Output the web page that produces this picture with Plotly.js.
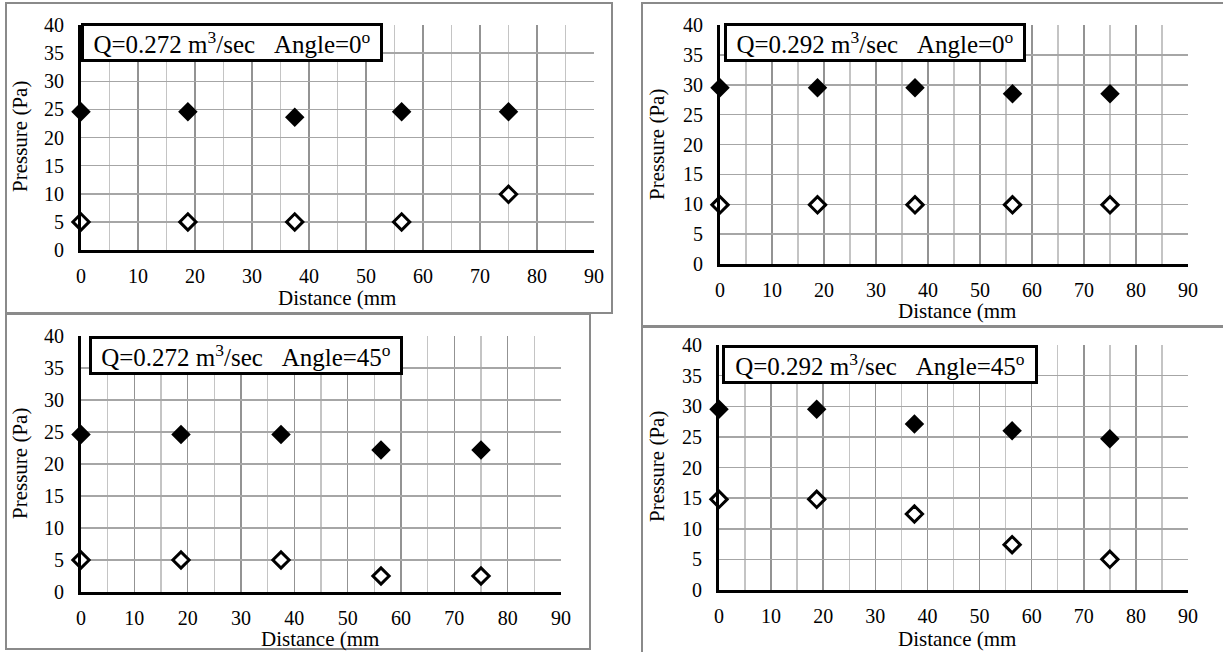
<!DOCTYPE html>
<html>
<head>
<meta charset="utf-8">
<script src="https://cdn.plot.ly/plotly-3.0.1.min.js"></script>
<style>html,body{margin:0;padding:0;background:#fff;}#chart{width:1223px;height:652px;}</style>
</head>
<body>
<div id="chart"></div>
<script>
// ---- data ----
var distance = [0, 18.75, 37.5, 56.25, 75];
var xTicks = [0, 10, 20, 30, 40, 50, 60, 70, 80, 90];
var yTicks = [0, 5, 10, 15, 20, 25, 30, 35, 40];

var titles = [
  "Q=0.272 m<sup>3</sup>/sec\u00a0\u00a0\u00a0Angle=0<sup>o</sup>",
  "Q=0.292 m<sup>3</sup>/sec\u00a0\u00a0\u00a0Angle=0<sup>o</sup>",
  "Q=0.272 m<sup>3</sup>/sec\u00a0\u00a0\u00a0Angle=45<sup>o</sup>",
  "Q=0.292 m<sup>3</sup>/sec\u00a0\u00a0\u00a0Angle=45<sup>o</sup>"
];
var upper272_0  = [24.6, 24.6, 23.6, 24.6, 24.6];
var lower272_0  = [5, 5, 5, 5, 9.9];
var upper292_0  = [29.5, 29.5, 29.5, 28.5, 28.5];
var lower292_0  = [9.9, 9.9, 9.9, 9.9, 9.9];
var upper272_45 = [24.6, 24.6, 24.6, 22.2, 22.2];
var lower272_45 = [5, 5, 5, 2.5, 2.5];
var upper292_45 = [29.5, 29.5, 27.1, 26, 24.7];
var lower292_45 = [14.8, 14.8, 12.4, 7.4, 5];

var xLabel = "Distance (mm";
var yLabel = "Pressure (Pa)";

// ---- layout helpers (pixel geometry) ----
var W = 1223, H = 652;
function px(v){ return v / W; }
function py(v){ return 1 - v / H; }

var panels = [
  {up: upper272_0,  lo: lower272_0,  x0: 81,  x1: 594,  yb: 250, yt: 25,  box: [81, 23, 302],  xt: [337, 298], yt2: [20, 137]},
  {up: upper292_0,  lo: lower292_0,  x0: 720, x1: 1188, yb: 264, yt: 25,  box: [724, 23, 302], xt: [957, 311], yt2: [657, 145]},
  {up: upper272_45, lo: lower272_45, x0: 81,  x1: 561,  yb: 592, yt: 336, box: [89, 336, 314], xt: [320, 639], yt2: [20, 464]},
  {up: upper292_45, lo: lower292_45, x0: 719, x1: 1188, yb: 590, yt: 345, box: [722, 345, 316], xt: [957, 639], yt2: [657, 467]}
];

var font = "'Liberation Serif', 'Times New Roman', Times, serif";
var data = [];
var layout = {
  width: W, height: H,
  margin: {l: 0, r: 0, t: 0, b: 0},
  paper_bgcolor: "#fff", plot_bgcolor: "#fff",
  showlegend: false,
  font: {family: font, size: 20, color: "#000"},
  annotations: [], shapes: []
};

panels.forEach(function(p, i){
  var n = i + 1;
  var xa = "x" + (n === 1 ? "" : n), ya = "y" + (n === 1 ? "" : n);
  var xk = "xaxis" + (n === 1 ? "" : n), yk = "yaxis" + (n === 1 ? "" : n);
  data.push({x: distance, y: p.lo, xaxis: xa, yaxis: ya, type: "scatter", mode: "markers", cliponaxis: false,
    marker: {symbol: "diamond", size: 12.5, color: "#fff", line: {color: "#000", width: 3}}});
  data.push({x: distance, y: p.up, xaxis: xa, yaxis: ya, type: "scatter", mode: "markers", cliponaxis: false,
    marker: {symbol: "diamond", size: 15, color: "#000", line: {color: "#000", width: 0}}});
  layout[xk] = {
    domain: [px(p.x0), px(p.x1)], anchor: ya, range: [0, 90], tickvals: xTicks,
    showline: true, linecolor: "#000", linewidth: 3, zeroline: false,
    showgrid: true, gridcolor: "#939393", gridwidth: 1.5, ticks: "", ticklabelstandoff: 6,
    minor: {tickvals: [5, 15, 25, 35, 45, 55, 65, 75, 85], showgrid: true, gridcolor: "#c4c4c4", gridwidth: 1.5},
    tickfont: {family: font, size: 20, color: "#000"}, fixedrange: true
  };
  layout[yk] = {
    domain: [py(p.yb), py(p.yt)], anchor: xa, range: [0, 40], tickvals: yTicks,
    showline: true, linecolor: "#000", linewidth: 3, zeroline: false,
    showgrid: true, gridcolor: "#a6a6a6", gridwidth: 1.5, ticks: "", ticklabelstandoff: 10,
    tickfont: {family: font, size: 20, color: "#000"}, fixedrange: true
  };
  layout.annotations.push({
    xref: "paper", yref: "paper", x: px(p.box[0]), y: py(p.box[1]), xanchor: "left", yanchor: "top",
    text: titles[i], showarrow: false, bgcolor: "#fff", bordercolor: "#000", borderwidth: 3, borderpad: 0.5,
    width: p.box[2] - 7, align: "center", font: {family: font, size: 25, color: "#000"}
  });
  layout.annotations.push({
    xref: "paper", yref: "paper", x: px(p.xt[0]), y: py(p.xt[1]), xanchor: "center", yanchor: "middle",
    text: xLabel, showarrow: false, font: {family: font, size: 21, color: "#000"}
  });
  layout.annotations.push({
    xref: "paper", yref: "paper", x: px(p.yt2[0]), y: py(p.yt2[1]), xanchor: "center", yanchor: "middle",
    text: yLabel, showarrow: false, textangle: -90, font: {family: font, size: 21, color: "#000"}
  });
});

// panel frames
var frames = [[6, 3, 612, 313], [642, 3, 1230, 326], [6, 314, 590, 649], [642, 327, 1230, 660]];
frames.forEach(function(f){
  layout.shapes.push({type: "rect", xref: "paper", yref: "paper", x0: px(f[0]), x1: px(f[2]), y0: py(f[1]), y1: py(f[3]),
    line: {color: "#8a8a8a", width: 2}, fillcolor: "rgba(0,0,0,0)", layer: "below"});
});

Plotly.newPlot("chart", data, layout, {staticPlot: true, displayModeBar: false});
</script>
</body>
</html>
